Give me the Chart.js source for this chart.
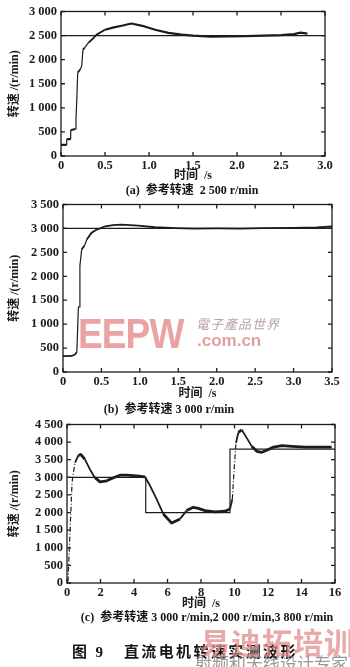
<!DOCTYPE html>
<html>
<head>
<meta charset="utf-8">
<script src="https://cdn.jsdelivr.net/npm/chart.js@4.4.1/dist/chart.umd.min.js"></script>
<style>
  body { margin: 0; width: 350px; height: 667px; background: #fff; position: relative; overflow: hidden;
         font-family: "Liberation Serif", "Noto Sans CJK SC", serif; color: #151515; }
  canvas { position: absolute; left: 0; }
  .cap { position: absolute; font-weight: bold; font-size: 12px; line-height: 14px; white-space: nowrap; transform: translateX(-50%); }
  .fig { position: absolute; left: 72px; top: 643px; font-weight: bold; font-size: 15px; line-height: 18px; letter-spacing: 2.4px; white-space: nowrap; }
  .wm { position: absolute; white-space: nowrap; }
</style>
</head>
<body>
<canvas id="chartA" width="350" height="184" style="top:0px"></canvas>
<canvas id="chartB" width="350" height="209" style="top:193px"></canvas>
<canvas id="chartC" width="350" height="199" style="top:413px"></canvas>

<div class="cap" style="left:192px;top:183px">(a)&nbsp; 参考转速&nbsp; 2 500 r/min</div>
<div class="cap" style="left:169px;top:402px">(b)&nbsp; 参考转速 3 000 r/min</div>
<div class="cap" style="left:207px;top:610px">(c)&nbsp; 参考转速 3 000 r/min,2 000 r/min,3 800 r/min</div>
<div class="fig">图 9&nbsp;&nbsp; 直流电机转速实测波形</div>

<!-- watermarks from the scan -->
<div class="wm" style="left:78px;top:309px;font:bold 43px 'Liberation Sans';color:#e9a3a3;transform:scaleX(0.86);transform-origin:left top;letter-spacing:-1px">EEPW</div>
<div class="wm" style="left:196px;top:314px;font:italic 13px 'Noto Sans CJK TC';color:#b9a3a3;letter-spacing:1px">電子產品世界</div>
<div class="wm" style="left:197px;top:331px;font:bold 17px 'Liberation Sans';color:#e2a0a0">.com.cn</div>
<div class="wm" style="left:200px;top:619px;font:bold 30px 'Noto Sans CJK SC';color:rgba(226,140,140,0.75);letter-spacing:1px">易迪拓培训</div>
<div class="wm" style="left:195px;top:650px;font:17px 'Noto Sans CJK SC';color:rgba(110,110,110,0.7)">射频和天线设计专家</div>

<script>
// (a) 参考转速 2 500 r/min
const timeA  = [0, 0.065, 0.065, 0.11, 0.11, 0.16, 0.17, 0.18, 0.19, 0.22, 0.235, 0.25, 0.27, 0.31, 0.37, 0.405, 0.5, 0.6, 0.69, 0.8, 0.95, 1.07, 1.22, 1.37, 1.5, 1.7, 1.9, 2.1, 2.3, 2.5, 2.65, 2.72, 2.8];
const speedA = [230, 230, 350, 350, 535, 560, 740, 1200, 1730, 1800, 1870, 2210, 2250, 2350, 2450, 2520, 2620, 2670, 2705, 2750, 2690, 2620, 2555, 2520, 2500, 2480, 2485, 2490, 2500, 2510, 2530, 2560, 2540];
const refTimeA  = [0, 3];
const refSpeedA = [2500, 2500];

// (b) 参考转速 3 000 r/min
const timeB  = [0, 0.113, 0.156, 0.18, 0.2, 0.21, 0.22, 0.243, 0.28, 0.31, 0.37, 0.44, 0.55, 0.65, 0.76, 0.98, 1.2, 1.46, 1.7, 2.0, 2.3, 2.6, 3.0, 3.3, 3.5];
const speedB = [330, 335, 366, 420, 1353, 1360, 2217, 2562, 2645, 2769, 2907, 2976, 3045, 3070, 3080, 3060, 3025, 3005, 2995, 3000, 2995, 3005, 3010, 3020, 3040];
const refTimeB  = [0, 3.5];
const refSpeedB = [3000, 3000];

// (c) 参考转速 3 000 / 2 000 / 3 800 r/min
const timeC  = [0.06, 0.14, 0.22, 0.3, 0.38, 0.48, 0.68, 0.82, 1.07, 1.37, 1.67, 1.97, 2.37, 2.77, 3.16, 3.56, 4.16, 4.66, 4.96, 5.35, 5.75, 6.25, 6.75, 7.14, 7.54, 7.84, 8.24, 8.84, 9.43, 9.73, 9.87, 9.99, 10.09, 10.23, 10.43, 10.73, 11.03, 11.33, 11.63, 11.93, 12.33, 12.83, 13.43, 14.23, 15.22, 15.8];
const speedC = [40, 975, 1913, 2850, 3130, 3415, 3620, 3650, 3510, 3225, 2990, 2870, 2900, 2990, 3060, 3060, 3040, 3010, 2760, 2380, 1960, 1700, 1820, 2055, 2150, 2120, 2056, 2020, 2037, 2100, 2380, 3320, 3975, 4275, 4350, 4120, 3880, 3740, 3710, 3770, 3860, 3900, 3880, 3860, 3860, 3860];
const refTimeC  = [0, 4.7, 4.7, 9.73, 9.73, 16];
const refSpeedC = [3000, 3000, 2000, 2000, 3800, 3800];

const INK = "#1c1c1c";
const tickFont = { family: "Liberation Serif", size: 12.5, weight: "bold" };
const titleFont = { family: "'Liberation Serif', 'Noto Sans CJK SC'", size: 12, weight: "bold" };

function pts(xs, ys) {
  return xs.map((x, i) => ({ x: x, y: ys[i] }));
}

function fmtSpeed(v) {
  if (v < 1000) return String(v);
  return Math.floor(v / 1000) + " " + String(v % 1000).padStart(3, "0");
}

// frame with inward ticks on all four sides
const frame = {
  id: "frame",
  afterDatasetsDraw(chart) {
    const { ctx, chartArea: a, scales } = chart;
    ctx.save();
    ctx.strokeStyle = INK;
    ctx.lineWidth = 1.3;
    ctx.strokeRect(a.left, a.top, a.right - a.left, a.bottom - a.top);
    ctx.beginPath();
    scales.x.ticks.forEach(t => {
      const p = scales.x.getPixelForValue(t.value);
      ctx.moveTo(p, a.bottom); ctx.lineTo(p, a.bottom - 4);
      ctx.moveTo(p, a.top); ctx.lineTo(p, a.top + 4);
    });
    scales.y.ticks.forEach(t => {
      const p = scales.y.getPixelForValue(t.value);
      ctx.moveTo(a.left, p); ctx.lineTo(a.left + 4, p);
      ctx.moveTo(a.right, p); ctx.lineTo(a.right - 4, p);
    });
    ctx.stroke();
    ctx.restore();
  }
};

function slope(c) {
  const dx = c.p1.parsed.x - c.p0.parsed.x;
  if (dx <= 0) return Infinity;
  return Math.abs(c.p1.parsed.y - c.p0.parsed.y) / dx;
}

function makeChart(id, o) {
  return new Chart(document.getElementById(id), {
    type: "line",
    data: {
      datasets: [
        {
          data: pts(o.refT, o.refV),
          borderColor: INK, borderWidth: 1.2, pointRadius: 0
        },
        {
          data: pts(o.t, o.v),
          borderColor: INK, pointRadius: 0, borderJoinStyle: "round",
          segment: {
            borderWidth: c => slope(c) > o.steep ? 1.2 : (slope(c) > 600 ? 1.8 : o.thick),
            borderDash: c => (o.dashSteep && slope(c) > o.steep) ? [5, 2, 1, 2] : undefined
          }
        }
      ]
    },
    options: {
      responsive: false,
      animation: false,
      layout: { padding: { top: 10, right: o.padR, left: 0, bottom: 0 } },
      plugins: { legend: { display: false }, tooltip: { enabled: false } },
      scales: {
        x: {
          type: "linear", min: 0, max: o.xMax,
          grid: { display: false, drawTicks: false }, border: { display: false },
          ticks: { stepSize: o.xStep, autoSkip: false, color: INK, font: tickFont, padding: 2, maxRotation: 0, callback: o.fmtX },
          title: { display: true, text: "时间  /s", color: INK, font: titleFont, padding: { top: 0, bottom: 1 } },
          afterFit: s => { s.height = o.xH; }
        },
        y: {
          min: 0, max: o.yMax,
          grid: { display: false, drawTicks: false }, border: { display: false },
          ticks: { stepSize: 500, autoSkip: false, color: INK, font: tickFont, padding: 4, callback: fmtSpeed },
          title: { display: true, text: "转速 /(r/min)", color: INK, font: titleFont, padding: { top: 8, bottom: 0 } },
          afterFit: s => { s.width = o.yW; }
        }
      }
    },
    plugins: [frame]
  });
}

makeChart("chartA", {
  t: timeA, v: speedA, refT: refTimeA, refV: refSpeedA,
  xMax: 3, xStep: 0.5, yMax: 3000, yW: 61, padR: 25, xH: 28,
  fmtX: v => v === 0 ? "0" : v.toFixed(1), steep: 2500, thick: 2.2, dashSteep: false
});

makeChart("chartB", {
  t: timeB, v: speedB, refT: refTimeB, refV: refSpeedB,
  xMax: 3.5, xStep: 0.5, yMax: 3500, yW: 63, padR: 18, xH: 30,
  fmtX: v => v === 0 ? "0" : v.toFixed(1), steep: 2500, thick: 1.8, dashSteep: false
});

makeChart("chartC", {
  t: timeC, v: speedC, refT: refTimeC, refV: refSpeedC,
  xMax: 16, xStep: 2, yMax: 4500, yW: 67, padR: 15, xH: 29,
  fmtX: v => String(v), steep: 2500, thick: 2.8, dashSteep: true
});
</script>
</body>
</html>
